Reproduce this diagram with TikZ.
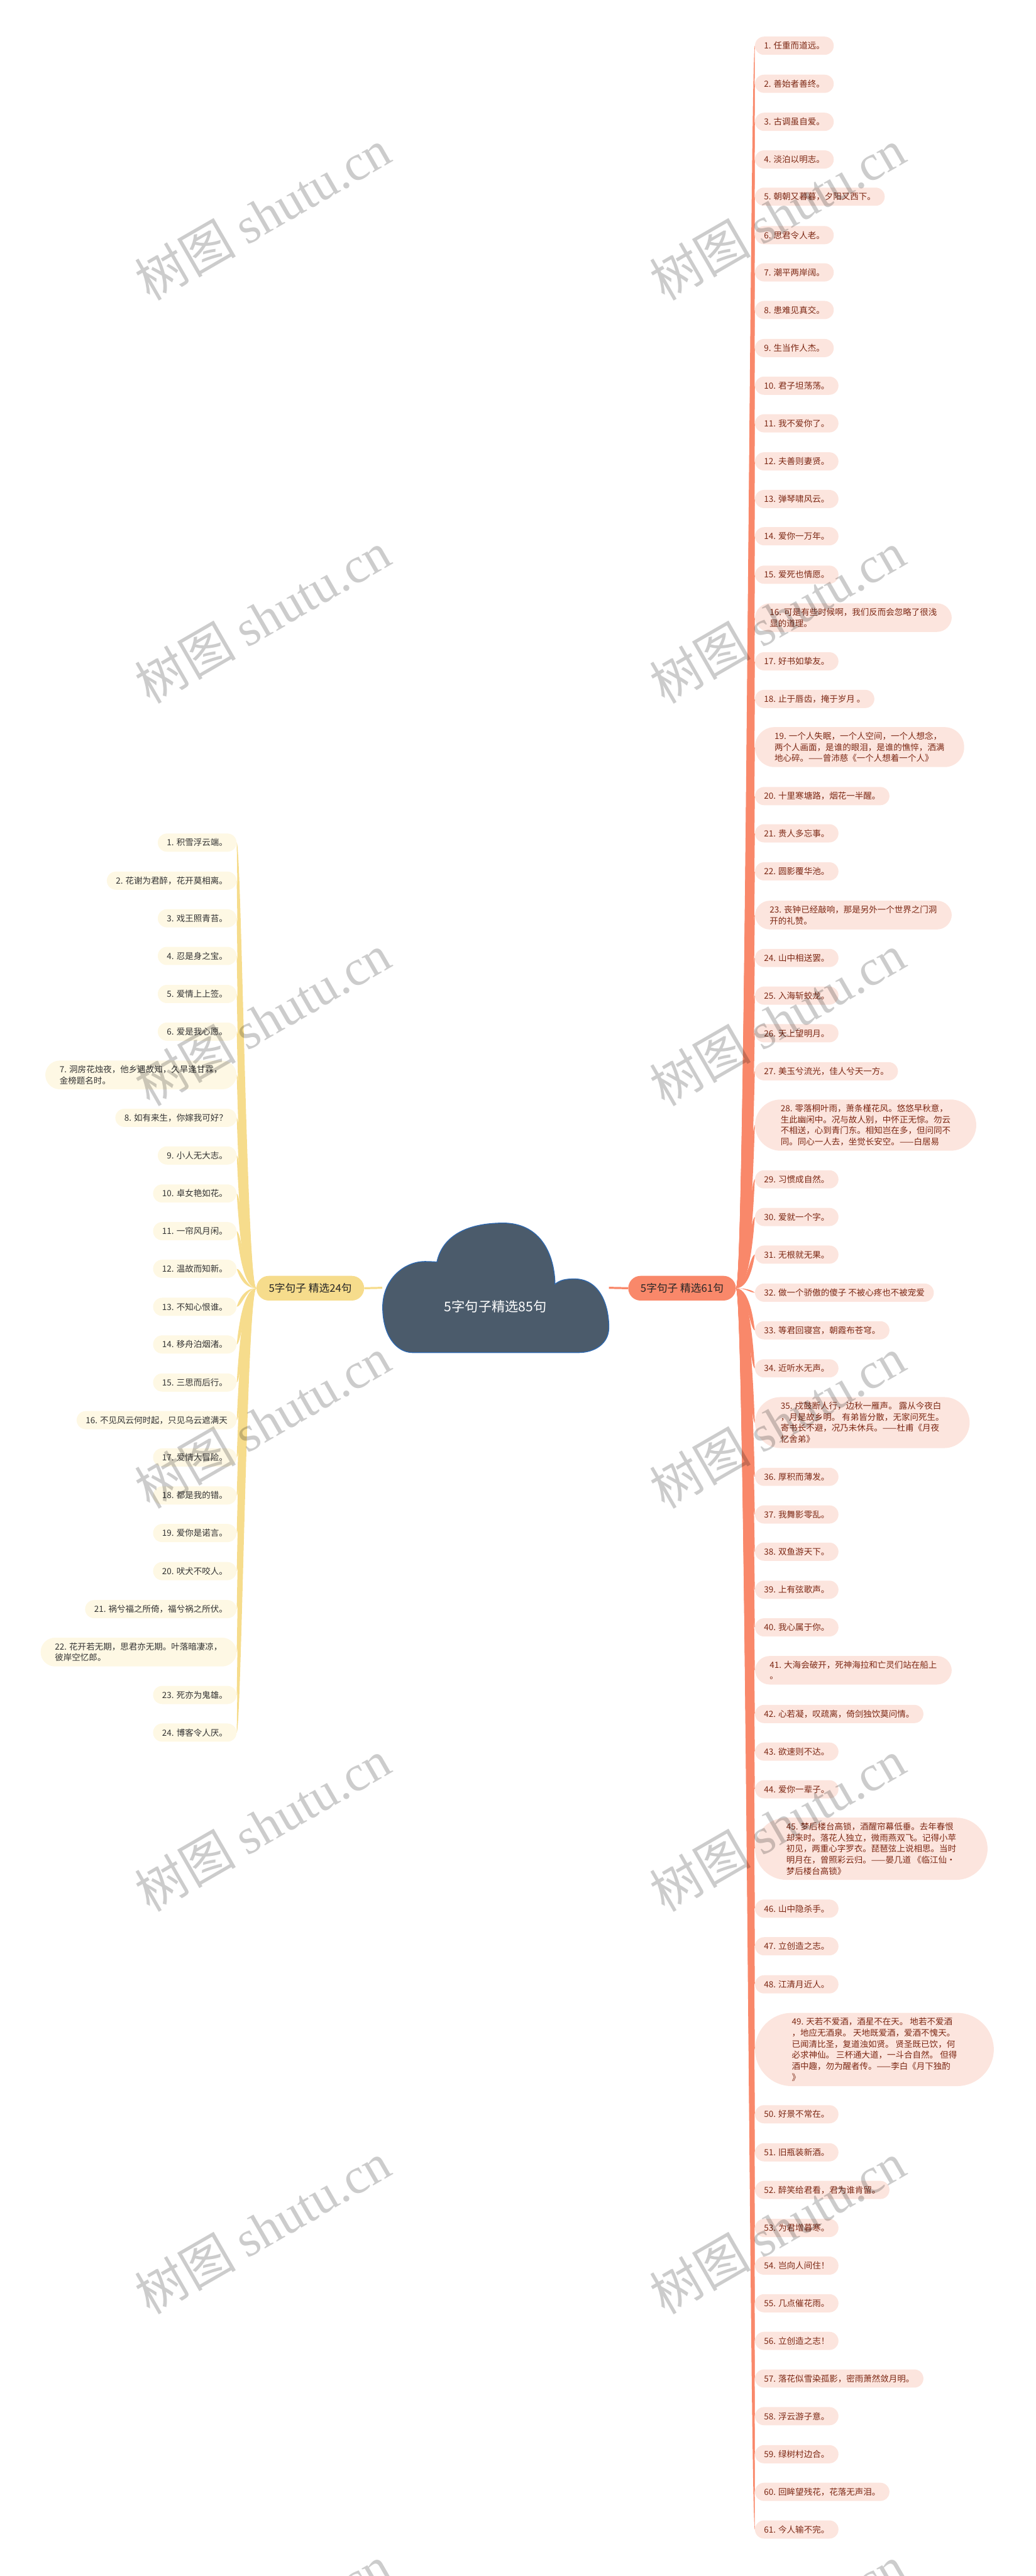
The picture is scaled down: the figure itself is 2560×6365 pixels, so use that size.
\documentclass[tikz,border=0pt]{standalone}
\usepackage{fontspec}
\setmainfont{Noto Sans CJK SC}
\newfontfamily\wmfont{Liberation Serif}
\usetikzlibrary{backgrounds,calc}

\definecolor{cloudfill}{RGB}{75,91,107}
\definecolor{cloudedge}{RGB}{45,104,176}
\definecolor{salmon}{RGB}{249,136,106}
\definecolor{pinkbg}{RGB}{252,229,222}
\definecolor{redtext}{RGB}{125,40,20}
\definecolor{goldline}{RGB}{246,220,140}
\definecolor{creambg}{RGB}{254,248,228}
\definecolor{graytext}{RGB}{51,51,51}

% tapered branch: root, leaf, colour, side (1 right, -1 left)
\newcommand{\twig}[4]{%
  \fill[#3] (#1) .. controls ($(#1)+(#4*24,0)$) and ($(#2)+(#4*-12,0)$) .. (#2)
    .. controls ($(#2)+(#4*-1,0)$) and ($(#1)+(#4*38,0)$) .. (#1) -- cycle;}

\begin{document}
\begin{tikzpicture}[x=1pt, y=-1pt,
    rleaf/.style={rectangle, rounded corners=#1, inner xsep=#1, inner ysep=12pt,
      fill=pinkbg, text=redtext, align=left,
      font=\fontsize{21}{27.5}\selectfont, minimum height=45pt, anchor=west},
    rleaf/.default=22.5pt,
    lleaf/.style={rleaf=#1, fill=creambg, text=graytext, anchor=east},
    lleaf/.default=22.5pt,
    mainbox/.style={rectangle, rounded corners=30.5pt, inner xsep=30.5pt,
      minimum height=61pt, font=\fontsize{26}{30}\selectfont, text=black!85},
    wmark/.style={rotate=30, text=black, text opacity=0.2,
      font=\fontsize{125}{125}\selectfont}]
    \useasboundingbox (0,0) rectangle (2560,6365);

    % 1. 中心云朵
    \node[minimum width=560pt, minimum height=320pt, inner sep=0pt] (root) at (1225,3182) {};
    \filldraw[fill=cloudfill, draw=cloudedge, line width=2pt]
        (1080,3118) .. controls (1095,3050) and (1160,3022) .. (1244,3022)
        .. controls (1330,3022) and (1370,3090) .. (1372,3173)
        .. controls (1385,3162) and (1400,3160) .. (1420,3160)
        .. controls (1480,3160) and (1505,3220) .. (1505,3280)
        .. controls (1505,3320) and (1470,3342) .. (1430,3342) -- (1020,3342)
        .. controls (980,3342) and (946,3300) .. (946,3230)
        .. controls (946,3160) and (1000,3117) .. (1050,3117)
        .. controls (1065,3117) and (1075,3118) .. (1080,3118) -- cycle;
    \node[text=white, font=\fontsize{33}{40}\selectfont] (title) at (1225,3228) {5字句子精选85句};

    % 2. 两个分支
    \node[mainbox, fill=salmon] (rmain) at (1686,3183) {5字句子 精选61句};
    \node[mainbox, fill=goldline] (lmain) at (767,3183) {5字句子 精选24句};

    % 3. 右侧 61 句
    \foreach \i/\y/\txt in {1/113/{任重而道远。}, 2/207/{善始者善终。}, 3/301/{古调虽自爱。},
        4/394/{淡泊以明志。}, 5/486/{朝朝又暮暮，夕阳又西下。}, 6/581/{思君令人老。},
        7/673/{潮平两岸阔。}, 8/766/{患难见真交。}, 9/860/{生当作人杰。},
        10/953/{君子坦荡荡。}, 11/1046/{我不爱你了。}, 12/1140/{夫善则妻贤。},
        13/1233/{弹琴啸风云。}, 14/1325/{爱你一万年。}, 15/1420/{爱死也情愿。},
        17/1634/{好书如挚友。}, 18/1727/{止于唇齿，掩于岁月 。},
        20/1967/{十里寒塘路，烟花一半醒。}, 21/2059/{贵人多忘事。}, 22/2153/{圆影覆华池。},
        24/2367/{山中相送罢。}, 25/2460/{入海斩蛟龙。}, 26/2553/{天上望明月。},
        27/2647/{美玉兮流光，佳人兮天一方。},
        29/2914/{习惯成自然。}, 30/3007/{爱就一个字。}, 31/3100/{无根就无果。},
        32/3194/{做一个骄傲的傻子 不被心疼也不被宠爱}, 33/3287/{等君回寝宫，朝霞布苍穹。},
        34/3381/{近听水无声。},
        36/3649/{厚积而薄发。}, 37/3742/{我舞影零乱。}, 38/3834/{双鱼游天下。},
        39/3928/{上有弦歌声。}, 40/4021/{我心属于你。},
        42/4235/{心若凝，叹疏离，倚剑独饮莫问情。}, 43/4328/{欲速则不达。}, 44/4421/{爱你一辈子。},
        46/4716/{山中隐杀手。}, 47/4809/{立创造之志。}, 48/4903/{江清月近人。},
        50/5224/{好景不常在。}, 51/5318/{旧瓶装新酒。}, 52/5411/{醉笑给君看，君为谁肯留。},
        53/5505/{为君增暮寒。}, 54/5598/{岂向人间住！}, 55/5691/{几点催花雨。},
        56/5784/{立创造之志！}, 57/5877/{落花似雪染孤影，密雨萧然敛月明。},
        58/5970/{浮云游子意。}, 59/6064/{绿树村边合。}, 60/6157/{回眸望残花，花落无声泪。},
        61/6250/{今人输不完。}}
        \node[rleaf] (r\i) at (1866,\y) {\i. \txt};
    % 多行的句子
    \foreach \i/\y/\r/\txt in {
        16/1526/36.5/{可是有些时候啊，我们反而会忽略了很浅\\显的道理。},
        19/1846/48.5/{一个人失眠，一个人空间，一个人想念，\\两个人画面，是谁的眼泪，是谁的憔悴，洒满\\地心碎。——曾沛慈《一个人想着一个人》},
        23/2261/36.5/{丧钟已经敲响，那是另外一个世界之门洞\\开的礼赞。},
        28/2780/63.5/{零落桐叶雨，萧条槿花风。悠悠早秋意，\\生此幽闲中。况与故人别，中怀正无悰。勿云\\不相送，心到青门东。相知岂在多，但问同不\\同。同心一人去，坐觉长安空。——白居易},
        35/3515/63.5/{戍鼓断人行，边秋一雁声。 露从今夜白\\，月是故乡明。 有弟皆分散，无家问死生。\\寄书长不避，况乃未休兵。——杜甫《月夜\\忆舍弟》},
        41/4127/36.5/{大海会破开，死神海拉和亡灵们站在船上\\。},
        45/4568/77.5/{梦后楼台高锁，酒醒帘幕低垂。去年春恨\\却来时。落花人独立，微雨燕双飞。记得小苹\\初见，两重心字罗衣。琵琶弦上说相思。当时\\明月在，曾照彩云归。——晏几道 《临江仙·\\梦后楼台高锁》},
        49/5064/91/{天若不爱酒，酒星不在天。 地若不爱酒\\，地应无酒泉。 天地既爱酒，爱酒不愧天。\\已闻清比圣，复道浊如贤。 贤圣既已饮，何\\必求神仙。 三杯通大道，一斗合自然。 但得\\酒中趣，勿为醒者传。——李白《月下独酌\\》}}
        \node[rleaf=\r pt] (r\i) at (1866,\y) {\i. \txt};

    % 4. 左侧 24 句
    \foreach \i/\y/\txt in {1/2082/{积雪浮云端。}, 2/2176/{花谢为君醉，花开莫相离。},
        3/2269/{戏王照青苔。}, 4/2362/{忍是身之宝。}, 5/2456/{爱情上上签。},
        6/2549/{爱是我心愿。},
        8/2762/{如有来生，你嫁我可好？}, 9/2855/{小人无大志。}, 10/2949/{卓女艳如花。},
        11/3042/{一帘风月闲。}, 12/3135/{温故而知新。}, 13/3229/{不知心恨谁。},
        14/3322/{移舟泊烟渚。}, 15/3416/{三思而后行。},
        16/3509/{不见风云何时起，只见乌云遮满天}, 17/3601/{爱情大冒险。},
        18/3695/{都是我的错。}, 19/3788/{爱你是诺言。}, 20/3882/{吠犬不咬人。},
        21/3976/{祸兮福之所倚，福兮祸之所伏。},
        23/4188/{死亦为鬼雄。}, 24/4281/{博客令人厌。}}
        \node[lleaf] (l\i) at (585,\y) {\i. \txt};
    \foreach \i/\y/\txt in {7/2656/{洞房花烛夜，他乡遇故知，久旱逢甘霖，\\金榜题名时。},
        22/4082/{花开若无期，思君亦无期。叶落暗凄凉，\\彼岸空忆郎。}}
        \node[lleaf=35.5pt] (l\i) at (585,\y) {\i. \txt};

    % 5. 连线
    \begin{scope}[on background layer]
        \draw[salmon, line width=5pt] (root.east) -- (rmain.west);
        \draw[goldline, line width=5pt] (root.west) -- (lmain.east);
        \foreach \i in {1,...,61} \twig{rmain.east}{r\i.west}{salmon}{1};
        \foreach \i in {1,...,24} \twig{lmain.west}{l\i.east}{goldline}{-1};
    \end{scope}

    % 6. 水印
    \foreach \k in {0,...,6} {
        \node[wmark] (wma\k) at (649,530+995*\k) {树图 {\wmfont shutu.cn}};
        \node[wmark] (wmb\k) at (1922,530+995*\k) {树图 {\wmfont shutu.cn}};
    }
\end{tikzpicture}
\end{document}
